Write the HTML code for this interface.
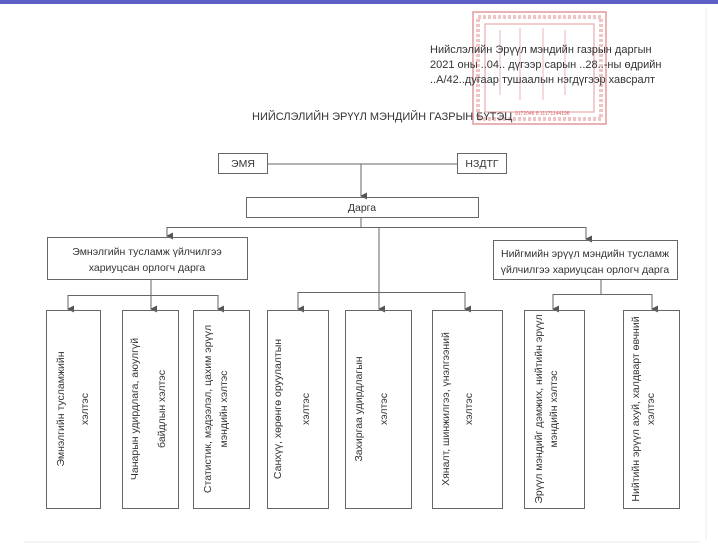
<!DOCTYPE html>
<html><head><meta charset="utf-8"><style>
html,body{margin:0;padding:0;background:#fff;}
svg{display:block;}
text{font-family:"Liberation Sans","DejaVu Sans",sans-serif;fill:#333;}
</style></head><body>
<svg width="718" height="555" viewBox="0 0 718 555" xmlns="http://www.w3.org/2000/svg">
<defs>
<marker id="a" markerWidth="8" markerHeight="8" refX="4" refY="6" orient="auto" markerUnits="userSpaceOnUse">
<path d="M0.5,0 L7.5,0 L4,7 Z" fill="#555"/>
</marker>
</defs>
<rect x="0" y="0" width="718" height="4" fill="#5b5fc6"/>
<line x1="706" y1="8" x2="706" y2="540" stroke="#eee" stroke-width="1"/>
<line x1="24" y1="542" x2="700" y2="542" stroke="#e8e8e8" stroke-width="1"/>
<!-- stamp -->
<g fill="none" stroke="#e08a8a" opacity="0.85">
<rect x="473" y="12" width="133" height="112" stroke-width="1.5"/>
<rect x="478" y="17" width="123" height="102" stroke-width="4" stroke-dasharray="3 2" opacity="0.6"/>
<rect x="485" y="24" width="109" height="88" stroke-width="1"/>
<line x1="500" y1="30" x2="500" y2="95" stroke-width="1.5" opacity="0.5"/>
<line x1="520" y1="28" x2="520" y2="100" stroke-width="1.5" opacity="0.5"/>
<line x1="543" y1="28" x2="543" y2="100" stroke-width="1.5" opacity="0.5"/>
<line x1="565" y1="30" x2="565" y2="95" stroke-width="1.5" opacity="0.5"/>
</g>
<text x="515" y="115" font-size="5" style="fill:#d96a6a">9172046 8 11171144196</text>
<!-- header text -->
<text x="430" y="53" font-size="11">Нийслэлийн Эрүүл мэндийн газрын даргын</text>
<text x="430" y="68" font-size="11">2021 оны ..04.. дүгээр сарын ..28..-ны өдрийн</text>
<text x="430" y="83" font-size="11">..А/42..дугаар тушаалын  нэгдүгээр хавсралт</text>
<text x="252" y="120" font-size="11">НИЙСЛЭЛИЙН ЭРҮҮЛ МЭНДИЙН ГАЗРЫН БҮТЭЦ</text>
<g fill="none" stroke="#666" stroke-width="1">
<rect x="218.5" y="153.5" width="49" height="20"/>
<rect x="457.5" y="153.5" width="49" height="20"/>
<line x1="268" y1="164" x2="457" y2="164"/>
<line x1="361" y1="164" x2="361" y2="196" marker-end="url(#a)"/>
<rect x="246.5" y="197.5" width="232" height="20"/>
<line x1="361" y1="218" x2="361" y2="227"/>
<line x1="167" y1="227.5" x2="586" y2="227.5"/>
<line x1="167" y1="227" x2="167" y2="236" marker-end="url(#a)"/>
<line x1="586" y1="227" x2="586" y2="239" marker-end="url(#a)"/>
<rect x="47.5" y="237.5" width="200" height="42"/>
<rect x="493.5" y="240.5" width="184" height="39"/>
<line x1="151" y1="280" x2="151" y2="295"/>
<line x1="68" y1="295.5" x2="218" y2="295.5"/>
<line x1="68" y1="295" x2="68" y2="309" marker-end="url(#a)"/>
<line x1="151" y1="295" x2="151" y2="309" marker-end="url(#a)"/>
<line x1="218" y1="295" x2="218" y2="309" marker-end="url(#a)"/>
<line x1="379" y1="227" x2="379" y2="309" marker-end="url(#a)"/>
<line x1="298" y1="292.5" x2="465" y2="292.5"/>
<line x1="298" y1="292" x2="298" y2="309" marker-end="url(#a)"/>
<line x1="465" y1="292" x2="465" y2="309" marker-end="url(#a)"/>
<line x1="601" y1="280" x2="601" y2="294"/>
<line x1="553" y1="294.5" x2="652" y2="294.5"/>
<line x1="553" y1="294" x2="553" y2="309" marker-end="url(#a)"/>
<line x1="652" y1="294" x2="652" y2="309" marker-end="url(#a)"/>
<rect x="46.5" y="310.5" width="54" height="198"/>
<rect x="122.5" y="310.5" width="56" height="198"/>
<rect x="193.5" y="310.5" width="56" height="198"/>
<rect x="267.5" y="310.5" width="61" height="198"/>
<rect x="345.5" y="310.5" width="66" height="198"/>
<rect x="432.5" y="310.5" width="70" height="198"/>
<rect x="524.5" y="310.5" width="60" height="198"/>
<rect x="623.5" y="310.5" width="56" height="198"/>
</g>
<g font-size="10.5" text-anchor="middle">
<text x="243" y="167">ЭМЯ</text>
<text x="482" y="167">НЗДТГ</text>
<text x="362" y="211">Дарга</text>
<text x="147" y="255">Эмнэлгийн тусламж үйлчилгээ</text>
<text x="147" y="271">хариуцсан орлогч дарга</text>
<text x="585" y="257">Нийгмийн эрүүл мэндийн тусламж</text>
<text x="585" y="273">үйлчилгээ хариуцсан орлогч дарга</text>
</g>
<g font-size="10.5" text-anchor="middle">
<text transform="translate(64,409) rotate(-90)">Эмнэлгийн тусламжийн</text>
<text transform="translate(88,409) rotate(-90)">хэлтэс</text>
<text transform="translate(138,409) rotate(-90)">Чанарын удирдлага, аюулгүй</text>
<text transform="translate(165,409) rotate(-90)">байдлын хэлтэс</text>
<text transform="translate(211,409) rotate(-90)">Статистик, мэдээлэл, цахим эрүүл</text>
<text transform="translate(227,409) rotate(-90)">мэндийн хэлтэс</text>
<text transform="translate(281,409) rotate(-90)">Санхүү, хөрөнгө оруулалтын</text>
<text transform="translate(309,409) rotate(-90)">хэлтэс</text>
<text transform="translate(362,409) rotate(-90)">Захиргаа удирдлагын</text>
<text transform="translate(387,409) rotate(-90)">хэлтэс</text>
<text transform="translate(449,409) rotate(-90)">Хяналт, шинжилгээ, үнэлгээний</text>
<text transform="translate(472,409) rotate(-90)">хэлтэс</text>
<text transform="translate(542,409) rotate(-90)">Эрүүл мэндийг дэмжих, нийтийн эрүүл</text>
<text transform="translate(557,409) rotate(-90)">мэндийн хэлтэс</text>
<text transform="translate(639,409) rotate(-90)">Нийтийн эрүүл ахуй, халдварт өвчний</text>
<text transform="translate(654,409) rotate(-90)">хэлтэс</text>
</g>
</svg>
</body></html>
